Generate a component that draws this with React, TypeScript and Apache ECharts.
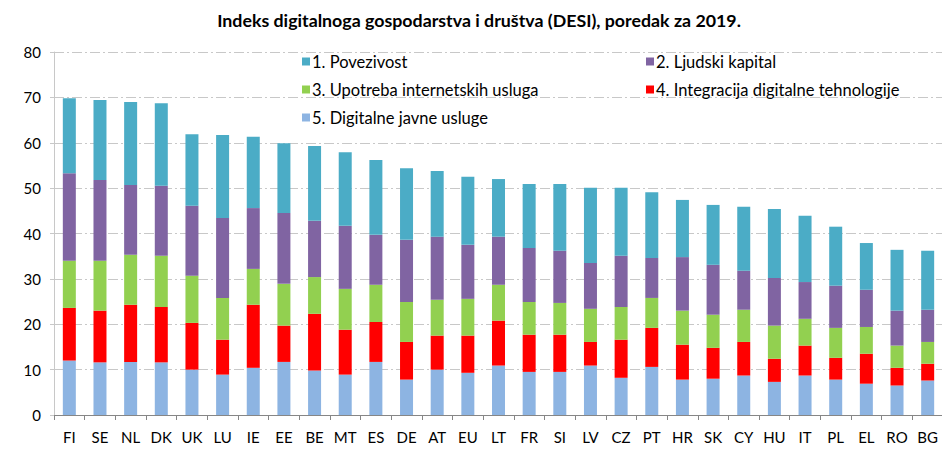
import React, { useEffect, useRef } from "react";
import * as echarts from "echarts";

const categories = ["FI","SE","NL","DK","UK","LU","IE","EE","BE","MT","ES","DE","AT","EU","LT","FR","SI","LV","CZ","PT","HR","SK","CY","HU","IT","PL","EL","RO","BG"];

const s1Povezivost = [16.5,17.6,18.3,18.2,15.8,18.3,15.7,15.4,16.5,16.2,16.5,15.8,14.5,15.0,12.7,14.1,14.7,16.6,15.0,14.5,12.6,13.2,14.1,15.2,14.6,13.0,10.3,13.4,13.0];
const s2LjudskiKapital = [19.3,17.8,15.4,15.4,15.4,17.6,13.4,15.6,12.4,13.9,11.0,13.7,13.9,11.9,10.6,11.9,11.5,10.1,11.3,8.8,11.8,11.0,8.6,10.5,8.1,9.3,8.2,7.7,7.1];
const s3Upotreba = [10.4,11.0,11.0,11.3,10.4,9.2,7.9,9.2,8.1,9.0,8.2,8.8,7.9,8.1,7.9,7.2,7.0,7.3,7.2,6.6,7.5,7.3,7.1,7.3,5.9,6.6,5.9,4.9,4.8];
const s4Integracija = [11.6,11.4,12.6,12.2,10.3,7.7,13.9,8.0,12.5,9.9,8.8,8.3,7.5,8.2,9.9,8.2,8.2,5.2,8.4,8.6,7.7,6.8,7.4,5.1,6.6,4.8,6.6,3.9,3.7];
const s5JavneUsluge = [12.0,11.6,11.7,11.6,10.0,8.9,10.4,11.7,9.8,8.9,11.7,7.8,10.0,9.3,10.9,9.5,9.5,10.9,8.2,10.6,7.8,8.0,8.7,7.3,8.7,7.8,6.9,6.5,7.6];

const names = ["1. Povezivost","2. Ljudski kapital","3. Upotreba internetskih usluga","4. Integracija digitalne tehnologije","5. Digitalne javne usluge"];
const colors = ["#4BACC6","#8064A2","#92D050","#FF0000","#8DB4E2"];
const yTicks = { min: 0, max: 80, interval: 10 };

const FONT = "Lato, 'Liberation Sans', sans-serif";

export default function App() {
  const ref = useRef<HTMLDivElement>(null);
  useEffect(() => {
    if (!ref.current) return;
    const chart = echarts.init(ref.current, null, { renderer: "svg" });
    const dataSets = [s5JavneUsluge, s4Integracija, s3Upotreba, s2LjudskiKapital, s1Povezivost];
    const seriesNames = [names[4], names[3], names[2], names[1], names[0]];
    const seriesColors = [colors[4], colors[3], colors[2], colors[1], colors[0]];
    const legendCommon = {
      orient: "vertical" as const,
      itemWidth: 8,
      itemHeight: 8,
      itemGap: 11,
      icon: "rect",
      textStyle: { fontFamily: FONT, fontSize: 16.5, color: "#000", padding: [0, 0, 0, -3] },
    };
    chart.setOption({
      animation: false,
      textStyle: { fontFamily: FONT },
      title: {
        text: "Indeks digitalnoga gospodarstva i društva (DESI), poredak za 2019.",
        left: "center",
        top: -2,
        textStyle: { fontFamily: FONT, fontSize: 17.8, fontWeight: "bold", color: "#000" },
      },
      legend: [
        { ...legendCommon, data: [names[0], names[2], names[4]], left: 289, top: 40 },
        { ...legendCommon, data: [names[1], names[3]], left: 633, top: 40 },
      ],
      grid: { left: 46, right: 7, top: 44, bottom: 56 },
      xAxis: {
        type: "category",
        data: categories,
        axisLine: { lineStyle: { color: "#868686", width: 1 } },
        axisTick: { show: true, alignWithLabel: false, length: 5, lineStyle: { color: "#868686" } },
        axisLabel: { fontFamily: FONT, fontSize: 15, color: "#000", margin: 14, interval: 0 },
      },
      yAxis: {
        type: "value",
        min: yTicks.min,
        max: yTicks.max,
        interval: yTicks.interval,
        axisLine: { show: true, lineStyle: { color: "#C8C8C8" } },
        axisTick: { show: true, length: 4, lineStyle: { color: "#C8C8C8" } },
        axisLabel: { fontFamily: FONT, fontSize: 15, color: "#000", margin: 13 },
        splitLine: { show: true, lineStyle: { color: "#C8C8C8", type: [10, 3, 2, 3], width: 1 } },
      },
      series: dataSets.map((d, i) => ({
        name: seriesNames[i],
        type: "bar",
        stack: "total",
        data: d,
        barWidth: 13,
        itemStyle: { color: seriesColors[i] },
      })),
    });
    return () => chart.dispose();
  }, []);
  return <div ref={ref} style={{ width: 942, height: 463 }} />;
}
